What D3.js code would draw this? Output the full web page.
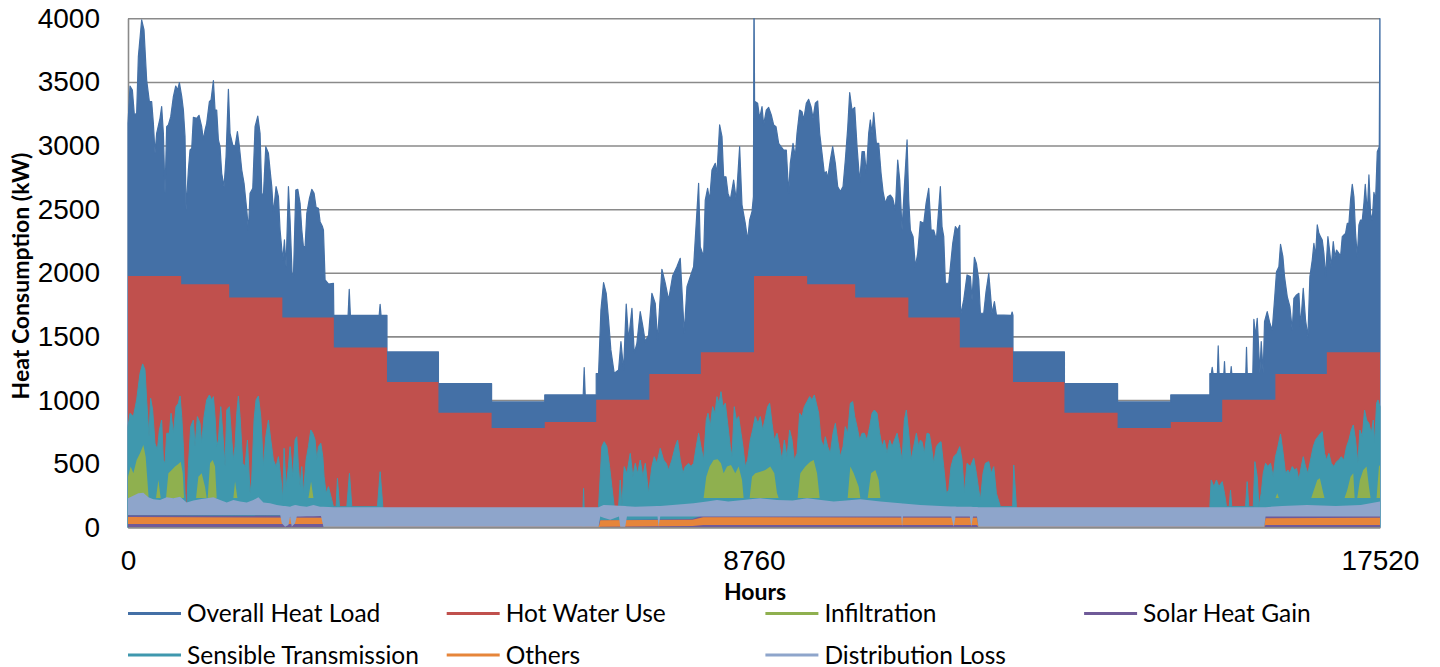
<!DOCTYPE html>
<html>
<head>
<meta charset="utf-8">
<script src="https://cdn.jsdelivr.net/npm/d3@7/dist/d3.min.js"></script>
<style>
  body { margin: 0; background: #fff; }
  svg { display: block; }
</style>
</head>
<body>
<div id="chart"></div>
<script>
// month start hours over the two years, and the monthly hot water level (kW)
const monthStarts = [0, 744, 1416, 2160, 2880, 3624, 4344, 5088, 5832, 6552, 7296, 8016,
  8760, 9504, 10176, 10920, 11640, 12384, 13104, 13848, 14592, 15312, 16056, 16776];
const hotWaterUse = [1975, 1910, 1805, 1648, 1412, 1142, 901, 780, 828, 1003, 1205, 1375,
  1975, 1910, 1805, 1648, 1412, 1142, 901, 780, 828, 1003, 1205, 1375];

const overallHeatLoad = [
  [0,3175],[28,3468],[61,3437],[89,3240],[121,3253],[145,3699],[191,3987],[224,3908],[261,3515],[299,3345],
  [331,3345],[355,3175],[378,2939],[401,3096],[448,3214],[471,3306],[495,3096],[518,2624],[541,3148],[565,3162],
  [598,3227],[635,3384],[668,3468],[695,3437],[719,3494],[752,3384],[775,3279],[798,3070],[812,2493],[845,2808],
  [868,2965],[892,2978],[915,3222],[961,3214],[994,3238],[1031,3148],[1055,3044],[1078,3122],[1101,3175],[1139,3345],
  [1162,3358],[1195,3510],[1218,3279],[1241,3279],[1265,3044],[1288,2991],[1311,2782],[1344,2677],[1372,2913],[1405,3442],
  [1428,3096],[1466,3004],[1498,2991],[1531,3109],[1559,2991],[1592,2808],[1624,2703],[1662,2493],[1685,2336],[1708,2624],
  [1746,2664],[1778,3148],[1816,3232],[1848,3096],[1872,2624],[1895,2611],[1928,2991],[1965,2939],[1988,2808],[2012,2677],
  [2035,2467],[2072,2677],[2105,2598],[2128,2336],[2166,2100],[2189,2258],[2212,2048],[2245,2677],[2268,2415],[2296,1996],
  [2315,1970],[2348,2651],[2376,2656],[2408,2546],[2432,2336],[2455,2205],[2478,2205],[2502,2467],[2539,2585],[2572,2656],
  [2604,2624],[2632,2514],[2665,2507],[2688,2402],[2721,2363],[2735,2336],[2758,1944],[2805,1912],[2875,1918],[2880,1666],
  [3080,1666],[3096,1870],[3112,1666],[3515,1666],[3528,1752],[3541,1666],[3624,1666],[3624,1378],[4344,1378],[4344,1129],
  [5088,1129],[5088,985],[5832,985],[5832,1040],[6370,1040],[6384,1255],[6398,1040],[6552,1040],[6552,1208],
  [6585,1210],[6618,1708],[6655,1923],[6692,1839],[6725,1629],[6757,1394],[6804,1210],[6865,1236],[6898,1459],[6935,1236],
  [6972,1755],[7005,1472],[7052,1721],[7084,1367],[7121,1446],[7168,1695],[7205,1577],[7238,1459],[7285,1512],[7331,1839],
  [7378,1760],[7411,1472],[7471,2028],[7518,1918],[7565,1787],[7621,1975],[7681,2048],[7728,2114],[7784,1525],[7822,1891],
  [7868,1970],[7915,2048],[7985,2703],[8008,2205],[8055,2127],[8078,2572],[8111,2664],[8139,2572],[8172,2808],[8218,2860],
  [8242,2782],[8279,3162],[8312,3070],[8335,2755],[8368,2755],[8396,2624],[8428,2572],[8475,2729],[8512,2572],[8559,2991],
  [8592,2533],[8638,2389],[8671,2258],[8699,2415],[8732,2480],[8752,2600],[8760,4300],[8768,3345],
  [8778,3345],[8811,3332],[8839,3214],[8872,3306],[8895,3162],[8932,3279],[8965,3300],[9002,3240],[9035,3162],[9068,3148],
  [9105,3017],[9138,2991],[9175,2965],[9212,2965],[9245,2624],[9268,2860],[9306,3017],[9338,2913],[9362,3096],[9399,3279],
  [9432,3266],[9455,3201],[9492,3332],[9525,3363],[9558,3306],[9586,3214],[9618,3332],[9651,3350],[9679,3096],[9712,2939],
  [9744,2782],[9772,2795],[9791,2742],[9828,2886],[9861,2991],[9898,2860],[9931,2677],[9968,2638],[10006,2677],[10038,2886],
  [10071,3135],[10099,3416],[10132,3279],[10169,3300],[10202,2991],[10239,2716],[10272,2952],[10304,2952],[10332,2782],[10365,3096],
  [10388,3201],[10412,3096],[10435,3258],[10472,3017],[10505,3017],[10538,2782],[10566,2638],[10598,2546],[10631,2598],[10668,2611],
  [10701,2585],[10738,2493],[10771,2886],[10799,2729],[10832,2336],[10864,2677],[10902,3044],[10925,2572],[10948,2336],[10986,2284],
  [11018,2048],[11051,2153],[11088,2402],[11135,2389],[11168,2546],[11205,2664],[11238,2336],[11275,2336],[11312,2258],[11368,2677],
  [11391,2363],[11415,2284],[11438,1918],[11485,1918],[11541,2231],[11578,2363],[11611,2336],[11639,2373],[11650,1666],
  [11695,1787],[11741,1983],[11788,1970],[11811,1787],[11844,2121],[11872,2074],[11905,1944],[11928,1682],[11975,1682],[12007,1852],
  [12045,1996],[12068,1839],[12091,1682],[12124,1774],[12152,1669],[12360,1666],[12372,1692],[12384,1666],[12384,1378],[13104,1378],
  [13104,1129],[13848,1129],[13848,985],[14592,985],[14592,1040],[15139,1040],[15139,1208],[15160,1208],[15172,1257],[15184,1208],
  [15245,1208],[15256,1425],[15268,1208],[15335,1208],[15344,1302],[15352,1208],[15430,1208],[15438,1263],[15446,1208],[15642,1208],
  [15652,1415],[15662,1208],[15740,1208],[15755,1635],[15778,1498],[15802,1643],[15839,1210],[15858,1459],[15886,1210],[15904,1616],
  [15942,1695],[15979,1603],[16012,1551],[16044,1787],[16072,2009],[16105,2048],[16128,2224],[16161,2127],[16184,1970],[16222,1813],
  [16259,1734],[16292,1551],[16315,1800],[16352,1826],[16385,1839],[16408,1577],[16446,1878],[16478,1629],[16511,1498],[16539,1970],
  [16572,2100],[16595,2231],[16618,2127],[16642,2376],[16665,2310],[16688,2284],[16712,2258],[16735,2153],[16758,1970],[16791,2284],
  [16819,2153],[16838,2048],[16866,2245],[16889,2127],[16912,2179],[16945,2153],[16968,2127],[16992,2284],[17015,2297],[17038,2310],
  [17062,2389],[17085,2389],[17108,2572],[17132,2695],[17155,2598],[17178,2310],[17202,2127],[17225,2376],[17248,2415],[17272,2415],
  [17295,2546],[17314,2695],[17342,2467],[17365,2769],[17388,2467],[17412,2415],[17435,2632],[17458,2572],[17482,2952],[17510,2991],
  [17520,4300]
];

const sensibleTransmission = [
  [0,791],[28,896],[75,870],[121,1001],[168,1210],[205,1284],[238,1236],[261,1001],[294,712],[317,1014],
  [345,922],[378,660],[411,608],[439,765],[471,843],[495,529],[518,503],[541,739],[579,739],[602,896],
  [635,739],[672,948],[705,975],[728,1032],[752,870],[775,634],[798,267],[821,110],[845,477],[877,791],
  [915,843],[938,634],[971,870],[1008,817],[1031,660],[1064,870],[1101,1001],[1139,1040],[1171,1001],[1195,1027],
  [1218,870],[1241,634],[1265,686],[1298,948],[1326,739],[1358,477],[1382,922],[1419,948],[1452,686],[1475,529],
  [1498,634],[1522,896],[1545,1032],[1568,870],[1606,503],[1638,477],[1671,686],[1708,267],[1731,372],[1764,843],
  [1792,1001],[1825,1032],[1858,870],[1895,477],[1928,712],[1965,843],[1998,686],[2035,529],[2072,477],[2105,555],
  [2138,398],[2166,215],[2184,621],[2212,319],[2245,477],[2268,634],[2306,398],[2338,686],[2362,712],[2385,477],
  [2408,319],[2432,477],[2455,267],[2492,529],[2525,634],[2558,765],[2586,739],[2618,686],[2642,529],[2665,634],
  [2698,660],[2726,555],[2744,398],[2772,267],[2805,319],[2852,215],[2875,162],[2912,162],[2931,385],[2959,162],
  [3062,162],[3099,424],[3132,162],[3491,162],[3528,437],[3566,162],[3600,0],[6360,0],[6375,306],[6390,0],
  [6570,0],[6585,162],[6631,634],[6664,673],[6701,634],[6739,477],[6771,319],[6804,162],[6865,162],[6888,372],
  [6911,162],[6944,477],[6982,424],[7028,581],[7065,398],[7098,503],[7131,424],[7168,529],[7205,398],[7238,503],
  [7285,267],[7331,477],[7364,555],[7401,503],[7448,621],[7495,529],[7532,503],[7565,450],[7611,529],[7658,634],
  [7691,686],[7728,529],[7766,424],[7798,477],[7845,503],[7878,477],[7915,503],[7952,634],[7985,739],[8018,634],
  [8055,529],[8092,843],[8116,896],[8148,791],[8181,948],[8214,896],[8242,1027],[8270,975],[8298,1066],[8326,948],
  [8358,975],[8391,817],[8428,634],[8452,555],[8484,948],[8512,843],[8545,870],[8578,739],[8606,634],[8638,477],
  [8671,529],[8708,686],[8741,765],[8778,870],[8816,817],[8848,870],[8881,765],[8918,857],[8951,948],[8979,975],
  [9012,817],[9044,686],[9082,739],[9119,634],[9152,529],[9184,686],[9222,555],[9259,765],[9292,686],[9324,529],
  [9362,581],[9399,896],[9432,870],[9464,948],[9502,988],[9539,1027],[9572,1001],[9604,1040],[9632,975],[9665,896],
  [9698,686],[9735,634],[9758,712],[9791,634],[9828,581],[9866,739],[9898,817],[9931,686],[9968,555],[10006,634],
  [10038,791],[10071,739],[10108,975],[10141,988],[10169,870],[10202,791],[10239,686],[10272,739],[10304,739],[10342,686],
  [10379,791],[10412,896],[10444,922],[10482,896],[10519,739],[10552,634],[10584,686],[10622,581],[10659,686],[10692,634],
  [10725,686],[10762,739],[10799,634],[10832,529],[10864,843],[10892,922],[10925,739],[10958,529],[10995,634],[11032,739],
  [11065,634],[11088,686],[11111,673],[11144,581],[11181,739],[11214,733],[11242,634],[11275,503],[11312,634],[11345,660],
  [11377,673],[11415,477],[11452,267],[11485,293],[11517,477],[11555,555],[11601,581],[11639,634],[11671,529],[11704,267],
  [11741,503],[11788,477],[11835,542],[11872,424],[11905,293],[11928,215],[11965,424],[11998,503],[12045,516],[12078,424],
  [12115,477],[12152,267],[12208,162],[12380,162],[12395,490],[12432,162],[12470,0],[15100,0],[15139,162],[15158,372],
  [15195,319],[15232,372],[15265,319],[15312,359],[15344,267],[15372,162],[15410,162],[15428,293],[15446,162],[15638,162],
  [15661,359],[15684,162],[15746,162],[15769,516],[15802,398],[15825,162],[15858,267],[15886,424],[15918,503],[15951,477],
  [15988,503],[16026,398],[16058,555],[16091,634],[16128,733],[16165,581],[16198,424],[16231,450],[16259,424],[16292,477],
  [16325,450],[16352,463],[16385,372],[16418,477],[16446,555],[16478,477],[16511,424],[16548,529],[16586,634],[16618,686],
  [16651,712],[16688,739],[16712,752],[16744,581],[16772,529],[16805,581],[16838,503],[16875,477],[16912,516],[16945,529],
  [16978,555],[17015,529],[17052,634],[17085,686],[17118,765],[17146,804],[17178,686],[17211,503],[17239,765],[17272,712],
  [17304,922],[17332,843],[17365,817],[17398,739],[17426,843],[17444,660],[17472,975],[17491,1001],[17520,948]
];

// infiltration shows only in cold spells, above this level
const infiltrationFloor = 230;
const infiltration = [
  [0,398],[37,477],[75,424],[121,529],[168,581],[215,647],[247,555],[271,372],[289,230],
  [392,230],[425,372],[457,230],
  [532,230],[565,424],[612,450],[658,477],[705,498],[738,516],[766,424],[784,230],
  [952,230],[985,398],[1031,424],[1078,319],[1101,230],
  [1115,230],[1148,503],[1185,529],[1218,477],[1241,230],
  [1475,230],[1498,359],[1531,230],
  [2525,230],[2562,359],[2595,230],
  [8055,230],[8092,398],[8139,477],[8195,529],[8251,534],[8298,503],[8335,424],[8382,477],[8438,490],[8498,424],[8545,477],[8592,372],[8615,230],
  [8699,230],[8732,398],[8778,424],[8848,437],[8918,450],[8988,477],[9044,424],[9082,267],[9105,230],
  [9371,230],[9408,424],[9478,477],[9548,516],[9595,529],[9642,424],[9679,230],
  [10071,230],[10108,477],[10155,424],[10225,319],[10248,230],
  [10351,230],[10398,424],[10458,450],[10505,372],[10528,230],
  [16058,230],[16082,267],[16105,230],
  [16558,230],[16595,293],[16642,372],[16679,385],[16726,267],[16744,230],
  [17024,230],[17062,293],[17108,398],[17146,424],[17165,230],
  [17202,230],[17239,372],[17286,450],[17332,477],[17365,319],[17388,230],
  [17472,230],[17505,477],[17520,490]
];

const solarHeatGain = [
  [0,95],[2720,90],[2735,0],[6585,0],[6600,55],[7900,65],[8050,97],[11400,97],[11881,90],[11900,0],
  [15900,0],[15918,95],[17520,100]
];

const othersHigh = [
  [0,80],[2735,75],[2745,8],[6590,8],[6610,55],[7900,60],[8050,79],[11881,75],[11900,8],[15900,8],
  [15918,71],[17520,75]
];
const othersLow = [
  [0,26],[2735,26],[2745,0],[6590,0],[6610,5],[7900,10],[8050,18],[11881,18],[11900,0],[15900,0],
  [15918,18],[17520,18]
];

const distributionHigh = [
  [0,228],[145,267],[215,272],[285,236],[355,220],[448,215],[541,236],[635,228],[728,241],[821,194],
  [915,210],[1008,220],[1101,228],[1195,236],[1288,215],[1382,194],[1475,215],[1568,202],[1662,194],[1755,215],
  [1825,236],[1895,194],[1988,189],[2082,176],[2175,168],[2268,162],[2338,176],[2408,168],[2502,162],[2595,176],
  [2688,162],[2875,157],[6585,157],[6655,176],[7100,162],[7450,168],[7915,189],[8102,202],[8242,215],[8400,202],
  [8708,220],[8848,228],[9082,215],[9300,210],[9502,228],[9700,215],[9875,202],[10050,210],[10248,220],[10530,202],
  [10808,189],[11088,176],[11368,168],[11600,162],[11880,160],[11900,157],[15900,157],[16150,168],[16500,176],[16900,168],
  [17250,176],[17520,202]
];
const distributionLow = [
  [0,97],[2130,97],[2152,31],[2198,5],[2245,18],[2268,84],[2292,5],[2338,31],[2362,84],[2700,89],
  [2735,5],[6585,5],[6608,84],[6748,60],[6870,84],[6888,5],[6958,5],[6982,84],[7410,84],[7425,5],
  [7448,84],[10820,84],[10832,5],[10845,84],[11520,84],[11555,5],[11580,84],[11780,84],[11800,5],[11825,84],
  [11881,84],[11900,5],[15900,5],[15918,84],[17520,84]
];

const yTicks = [0, 500, 1000, 1500, 2000, 2500, 3000, 3500, 4000];
const xTicks = [0, 8760, 17520];
const seriesNames = ['Overall Heat Load', 'Hot Water Use', 'Infiltration', 'Solar Heat Gain',
  'Sensible Transmission', 'Others', 'Distribution Loss'];
const seriesColors = ['#4470a6', '#c0504d', '#8fb04f', '#6f5a98', '#3f98ae', '#e6853a', '#8ea5cb'];

class HeatChart {
  draw() {
    this.margin = { top: 18.3, left: 128 };
    this.width = 1252;
    this.height = 509;

    const svg = d3.select('#chart').append('svg')
      .attr('width', 1440)
      .attr('height', 667);

    const g = svg.append('g')
      .attr('transform', `translate(${this.margin.left}, ${this.margin.top})`);

    const x = d3.scaleLinear().domain([0, 17520]).range([0, this.width]);
    const y = d3.scaleLinear().domain([0, 4000]).range([this.height, 0]);

    g.append('clipPath')
      .attr('id', 'clip')
      .append('rect')
      .attr('x', -2)
      .attr('width', this.width + 4)
      .attr('height', this.height + 2);

    // grid lines and y labels
    const yAxis = d3.axisLeft(y)
      .tickValues(yTicks)
      .tickSizeInner(-this.width)
      .tickSizeOuter(0)
      .tickPadding(28)
      .tickFormat(d3.format('d'));

    const ya = g.append('g').call(yAxis);
    ya.selectAll('line').attr('stroke', '#8a8a8a').attr('stroke-width', 1.6);
    ya.select('.domain').attr('stroke', '#8a8a8a').attr('stroke-width', 1.6);
    ya.selectAll('text')
      .attr('fill', '#000')
      .style('font-family', '"Liberation Sans", Arial, sans-serif')
      .style('font-size', '28px');

    const plot = g.append('g').attr('clip-path', 'url(#clip)');

    const band = (lower) => d3.area()
      .x(d => x(d[0]))
      .y0(lower)
      .y1(d => y(d[1]));

    // overall heat load
    plot.append('path')
      .datum(overallHeatLoad)
      .attr('fill', seriesColors[0])
      .attr('stroke', seriesColors[0])
      .attr('stroke-width', 1.2)
      .attr('stroke-linejoin', 'round')
      .attr('d', band(y(0)));

    // hot water use, monthly steps
    const hotWater = monthStarts.map((h, i) => [h, hotWaterUse[i]]);
    hotWater.push([17520, hotWaterUse[hotWaterUse.length - 1]]);
    plot.append('path')
      .datum(hotWater)
      .attr('fill', seriesColors[1])
      .attr('d', band(y(0)).curve(d3.curveStepAfter));

    plot.append('path')
      .datum(sensibleTransmission)
      .attr('fill', seriesColors[4])
      .attr('stroke', seriesColors[4])
      .attr('stroke-width', 1)
      .attr('stroke-linejoin', 'round')
      .attr('d', band(y(0)));

    plot.append('path')
      .datum(infiltration)
      .attr('fill', seriesColors[2])
      .attr('d', band(y(infiltrationFloor)));

    plot.append('path')
      .datum(solarHeatGain)
      .attr('fill', seriesColors[3])
      .attr('d', band(y(0)));

    const pairArea = (hi, lo) => d3.area()
      .x(d => x(d[0]))
      .y0(d => y(d[2]))
      .y1(d => y(d[1]))(mergeBands(hi, lo));

    plot.append('path')
      .attr('fill', seriesColors[5])
      .attr('d', pairArea(othersHigh, othersLow));

    plot.append('path')
      .attr('fill', seriesColors[6])
      .attr('d', pairArea(distributionHigh, distributionLow));

    // x labels
    const xAxis = d3.axisBottom(x)
      .tickValues(xTicks)
      .tickSize(0)
      .tickPadding(23)
      .tickFormat(d3.format('d'));
    const xa = g.append('g')
      .attr('transform', `translate(0, ${this.height})`)
      .call(xAxis);
    xa.select('.domain').attr('stroke', '#8a8a8a').attr('stroke-width', 1.6);
    xa.selectAll('text')
      .attr('fill', '#000')
      .style('font-family', '"Liberation Sans", Arial, sans-serif')
      .style('font-size', '28px');

    svg.append('text')
      .attr('x', 755)
      .attr('y', 600)
      .attr('text-anchor', 'middle')
      .style('font-family', 'Lato, "Open Sans", sans-serif')
      .style('font-weight', 'bold')
      .style('font-size', '23px')
      .text('Hours');

    svg.append('text')
      .attr('transform', 'translate(29, 276) rotate(-90)')
      .attr('text-anchor', 'middle')
      .style('font-family', 'Lato, "Open Sans", sans-serif')
      .style('font-weight', 'bold')
      .style('font-size', '23px')
      .text('Heat Consumption (kW)');

    // legend, two rows of four
    const legend = svg.selectAll('.legend')
      .data(seriesNames)
      .enter()
      .append('g')
      .attr('class', 'legend')
      .attr('transform', (d, i) => `translate(${187 + (i % 4) * 318.7}, ${622 + Math.floor(i / 4) * 41.5})`);

    legend.append('line')
      .attr('x1', -59)
      .attr('x2', -6)
      .attr('y1', -8.5)
      .attr('y2', -8.5)
      .attr('stroke', (d, i) => seriesColors[i])
      .attr('stroke-width', 3);

    legend.append('text')
      .style('font-family', 'Lato, "Open Sans", sans-serif')
      .style('font-size', '24.5px')
      .attr('fill', '#000')
      .text(d => d);
  }
}

// join an upper and a lower edge into [hour, upper, lower] rows on shared hours
function mergeBands(hi, lo) {
  const hours = Array.from(new Set([...hi.map(d => d[0]), ...lo.map(d => d[0])])).sort((a, b) => a - b);
  const at = (arr, h) => {
    const i = d3.bisector(d => d[0]).left(arr, h);
    if (i <= 0) return arr[0][1];
    if (i >= arr.length) return arr[arr.length - 1][1];
    const a = arr[i - 1];
    const b = arr[i];
    if (b[0] === h) return b[1];
    return a[1] + (b[1] - a[1]) * (h - a[0]) / (b[0] - a[0]);
  };
  return hours.map(h => [h, at(hi, h), at(lo, h)]);
}

const chart = new HeatChart();
chart.draw();
</script>
</body>
</html>
